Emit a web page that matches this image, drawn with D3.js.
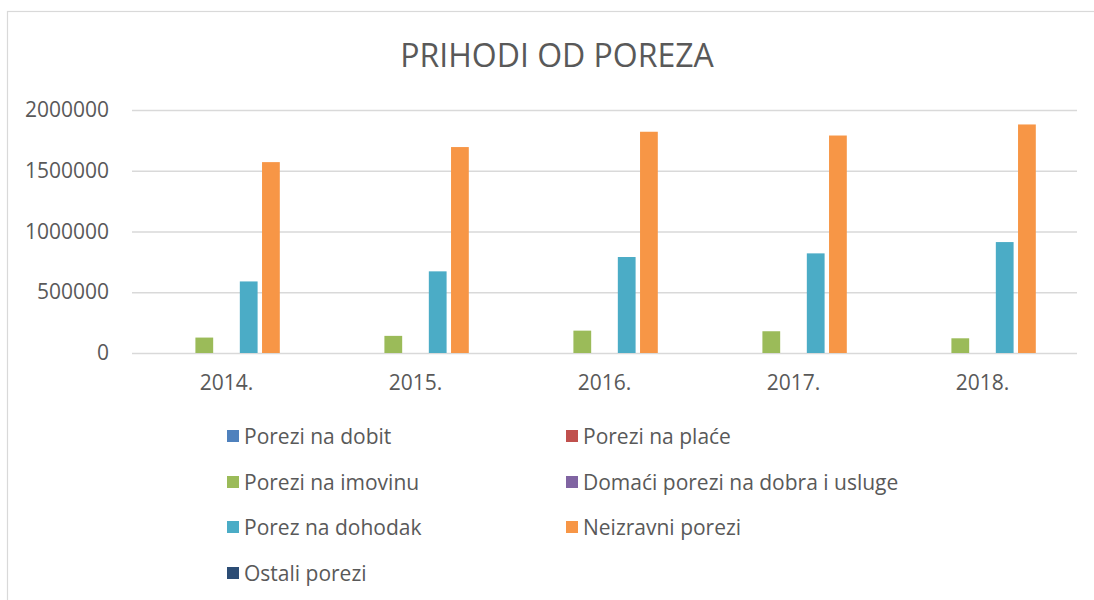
<!DOCTYPE html>
<html>
<head>
<meta charset="utf-8">
<script src="https://cdn.jsdelivr.net/npm/d3@7/dist/d3.min.js"></script>
<style>
    body { margin: 0; background: #fff; }
    text { font-family: "Open Sans", sans-serif; fill: #595959; }
</style>
</head>
<body>
<div id="chart"></div>
<script>
// chart data
const years = ["2014.", "2015.", "2016.", "2017.", "2018."];
const seriesNames = ["Porezi na dobit", "Porezi na plaće", "Porezi na imovinu",
    "Domaći porezi na dobra i usluge", "Porez na dohodak", "Neizravni porezi", "Ostali porezi"];
const poreziNaDobit = [0, 0, 0, 0, 0];
const poreziNaPlace = [0, 0, 0, 0, 0];
const poreziNaImovinu = [127000, 141000, 184000, 179000, 121000];
const domaciPorezi = [0, 0, 0, 0, 0];
const porezNaDohodak = [589000, 672000, 790000, 820000, 913000];
const neizravniPorezi = [1571000, 1695000, 1821000, 1790000, 1881000];
const ostaliPorezi = [0, 0, 0, 0, 0];
const yTicks = [0, 500000, 1000000, 1500000, 2000000];

const seriesValues = [poreziNaDobit, poreziNaPlace, poreziNaImovinu, domaciPorezi,
    porezNaDohodak, neizravniPorezi, ostaliPorezi];
const colors = ["#4F81BD", "#C0504D", "#9BBB59", "#8064A2", "#4BACC6", "#F79646", "#2C4D75"];

const width = 1094, height = 600;
const margin = {top: 110, right: 17, bottom: 247, left: 132};

const svg = d3.select("#chart").append("svg")
    .attr("width", width)
    .attr("height", height);

// outer chart border (runs off the page on right / bottom)
svg.append("rect")
    .attr("x", 7.5).attr("y", 11.5)
    .attr("width", width).attr("height", height)
    .attr("fill", "none")
    .attr("stroke", "#d9d9d9")
    .attr("stroke-width", 1.2);

svg.append("text")
    .attr("x", 557).attr("y", 67)
    .attr("text-anchor", "middle")
    .style("font-size", "32px")
    .text("PRIHODI OD POREZA");

const x0 = d3.scaleBand()
    .domain(years)
    .range([margin.left, width - margin.right]);

const x1 = d3.scaleBand()
    .domain(d3.range(seriesNames.length))
    .range([0, x0.bandwidth()])
    .paddingInner(0.2)
    .paddingOuter(0.855);

const y = d3.scaleLinear()
    .domain([0, 2000000])
    .range([height - margin.bottom, margin.top]);

// gridlines + y labels
const yAxis = svg.append("g")
    .attr("transform", `translate(${margin.left},0)`)
    .call(d3.axisLeft(y).tickValues(yTicks).tickFormat(d3.format("d"))
        .tickSize(-(width - margin.left - margin.right)).tickPadding(23));
yAxis.select(".domain").remove();
yAxis.selectAll("line").attr("stroke", "#d9d9d9").attr("stroke-width", 1.3);
yAxis.selectAll("text")
    .style("font-size", "21px")
    .style("font-family", "'Open Sans', sans-serif")
    .attr("fill", "#595959");

// bars
const groups = svg.append("g").selectAll("g")
    .data(years)
    .join("g")
    .attr("transform", d => `translate(${x0(d)},0)`);

groups.selectAll("rect")
    .data((d, i) => seriesValues.map((vals, s) => ({s: s, v: vals[i]})))
    .join("rect")
    .attr("x", d => x1(d.s))
    .attr("width", x1.bandwidth())
    .attr("y", d => y(d.v))
    .attr("height", d => y(0) - y(d.v))
    .attr("fill", d => colors[d.s]);

// x labels
const xAxis = svg.append("g")
    .attr("transform", `translate(0,${height - margin.bottom})`)
    .call(d3.axisBottom(x0).tickSize(0).tickPadding(0));
xAxis.select(".domain").remove();
xAxis.selectAll("text")
    .attr("y", 37)
    .attr("dy", 0)
    .style("font-size", "21px")
    .style("font-family", "'Open Sans', sans-serif")
    .attr("fill", "#595959");

// legend
const legendCols = [227, 566];
const legendRows = [436, 482, 527, 573];
const legend = svg.append("g").selectAll("g")
    .data(seriesNames)
    .join("g")
    .attr("transform", (d, i) => `translate(${legendCols[i % 2]},${legendRows[Math.floor(i / 2)]})`);

legend.append("rect")
    .attr("x", 0).attr("y", -6)
    .attr("width", 12).attr("height", 12)
    .attr("fill", (d, i) => colors[i]);

legend.append("text")
    .attr("x", 17)
    .attr("dy", "0.36em")
    .style("font-size", "21px")
    .text(d => d);
</script>
</body>
</html>
